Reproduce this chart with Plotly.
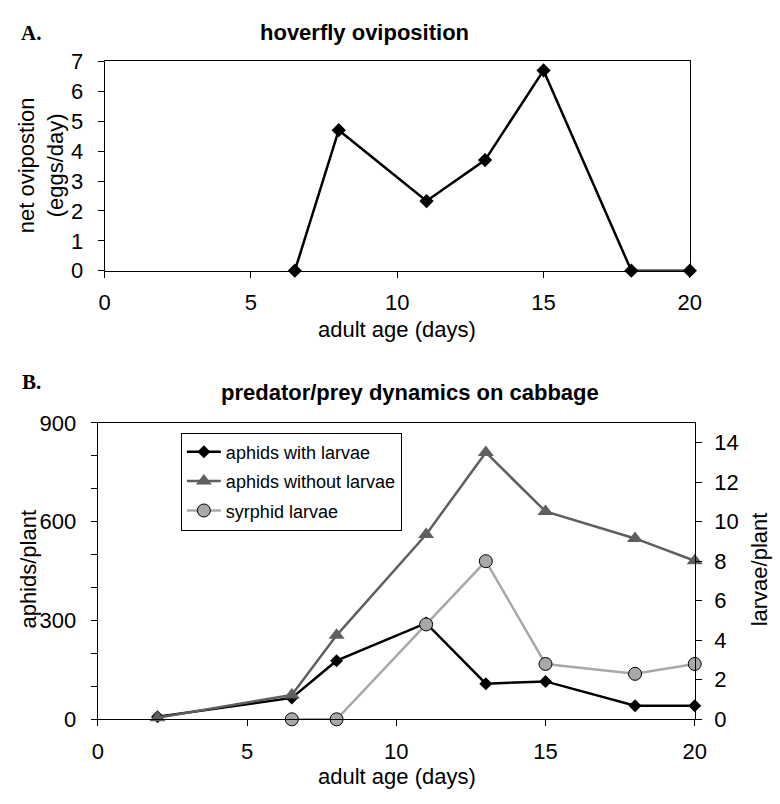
import plotly.graph_objects as go

# ---- data ----
days_a = [6.5, 8, 11, 13, 15, 18, 20]
oviposition = [0, 4.7, 2.33, 3.7, 6.7, 0, 0]

days_b = [2, 6.5, 8, 11, 13, 15, 18, 20]
aphids_with_larvae = [8, 65, 178, 292, 108, 115, 41, 41]
aphids_without_larvae = [5, 74, 255, 561, 810, 631, 549, 481]

days_s = [6.5, 8, 11, 13, 15, 18, 20]
syrphid_larvae = [0, 0, 4.8, 8.0, 2.8, 2.3, 2.8]

W, H = 780, 804
FONT = "Liberation Sans, Arial, sans-serif"
FS = 22

def px_x(x):
    return x / W

def px_y(y):
    return 1 - y / H

fig = go.Figure()

# Panel A
fig.add_trace(go.Scatter(
    x=days_a, y=oviposition, mode="lines+markers", xaxis="x", yaxis="y",
    line=dict(color="black", width=2.5),
    marker=dict(symbol="diamond", size=11, color="black"),
    showlegend=False, cliponaxis=False))

# Panel B
fig.add_trace(go.Scatter(
    x=days_b, y=aphids_with_larvae, mode="lines+markers", xaxis="x2", yaxis="y2",
    name="aphids with larvae", legendgroup="a",
    line=dict(color="black", width=2.5),
    marker=dict(symbol="diamond", size=10, color="black"),
    cliponaxis=False))
fig.add_trace(go.Scatter(
    x=days_b, y=aphids_without_larvae, mode="lines+markers", xaxis="x2", yaxis="y2",
    name="aphids without larvae", legendgroup="b",
    line=dict(color="#5f5f5f", width=2.5),
    marker=dict(symbol="triangle-up", size=14, color="#5f5f5f"),
    cliponaxis=False))
fig.add_trace(go.Scatter(
    x=days_s, y=syrphid_larvae, mode="lines+markers", xaxis="x2", yaxis="y3",
    name="syrphid larvae", legendgroup="c",
    line=dict(color="#a8a8a8", width=2.5),
    marker=dict(symbol="circle", size=13, color="#a8a8a8",
                line=dict(color="black", width=1)),
    cliponaxis=False))

tickfont = dict(family=FONT, size=FS, color="black")
axcommon = dict(showline=True, linecolor="black", linewidth=1.2, ticks="outside",
                ticklen=6, tickcolor="black", tickwidth=1, showgrid=False,
                zeroline=False, tickfont=tickfont)

fig.update_layout(
    width=W, height=H, margin=dict(l=0, r=0, t=0, b=0),
    paper_bgcolor="white", plot_bgcolor="white",
    font=dict(family=FONT, color="black"),
    xaxis=dict(domain=[px_x(101), px_x(700)], anchor="y", range=[0, 20],
               dtick=5, tick0=0, mirror=True, ticklabelstandoff=6, **axcommon),
    yaxis=dict(domain=[px_y(267), px_y(51)], anchor="x", range=[0, 7],
               dtick=1, tick0=0, mirror=True, ticklabelstandoff=10, **axcommon),
    xaxis2=dict(domain=[px_x(94), px_x(705)], anchor="y2", range=[0, 20],
                dtick=5, tick0=0, mirror=True, ticklabelstandoff=6, **axcommon),
    yaxis2=dict(domain=[px_y(730), px_y(424)], anchor="x2", range=[0, 900],
                dtick=300, tick0=0, ticklabelstandoff=10,
                minor=dict(dtick=100, ticks="outside", ticklen=6, tickcolor="black"),
                **axcommon),
    yaxis3=dict(overlaying="y2", anchor="x2", side="right", range=[0, 15],
                tickvals=[0, 2, 4, 6, 8, 10, 12, 14], ticklabelstandoff=8, **axcommon),
    yaxis4=dict(overlaying="y2", anchor="x2", side="right", range=[0, 15],
                tickvals=[0, 2, 4, 6, 8, 10, 12, 14], showticklabels=False,
                showline=False, ticks="inside", ticklen=7, tickcolor="black",
                showgrid=False, zeroline=False),
    legend=dict(x=px_x(179), y=px_y(434), xanchor="left", yanchor="top",
                bordercolor="black", borderwidth=1, bgcolor="white",
                font=dict(family=FONT, size=18, color="black"),
                itemwidth=34, tracegroupgap=3),
)

ann = []
def add_text(text, x, y, size=FS, bold=False, angle=0, family=FONT):
    t = f"<b>{text}</b>" if bold else text
    ann.append(dict(text=t, x=px_x(x), y=px_y(y), xref="paper", yref="paper",
                    showarrow=False, textangle=angle, xanchor="center", yanchor="middle",
                    font=dict(family=family, size=size, color="black")))

add_text("hoverfly oviposition", 367, 21, bold=True)
add_text("predator/prey dynamics on cabbage", 414, 393, bold=True)
add_text("A.", 26, 22, size=21, bold=True, family="Liberation Serif, Times New Roman, serif")
add_text("B.", 26, 382, size=21, bold=True, family="Liberation Serif, Times New Roman, serif")
add_text("adult age (days)", 400, 328)
add_text("adult age (days)", 400, 789)
add_text("net ovipostion<br>(eggs/day)", 36, 158, angle=-90)
add_text("aphids/plant", 23, 575, angle=-90)
add_text("larvae/plant", 771, 575, angle=-90)

fig.update_layout(annotations=ann)

fig.write_html("out.html", config={"displayModeBar": False},
               post_script="document.body.style.margin='0';document.body.style.padding='0';")
